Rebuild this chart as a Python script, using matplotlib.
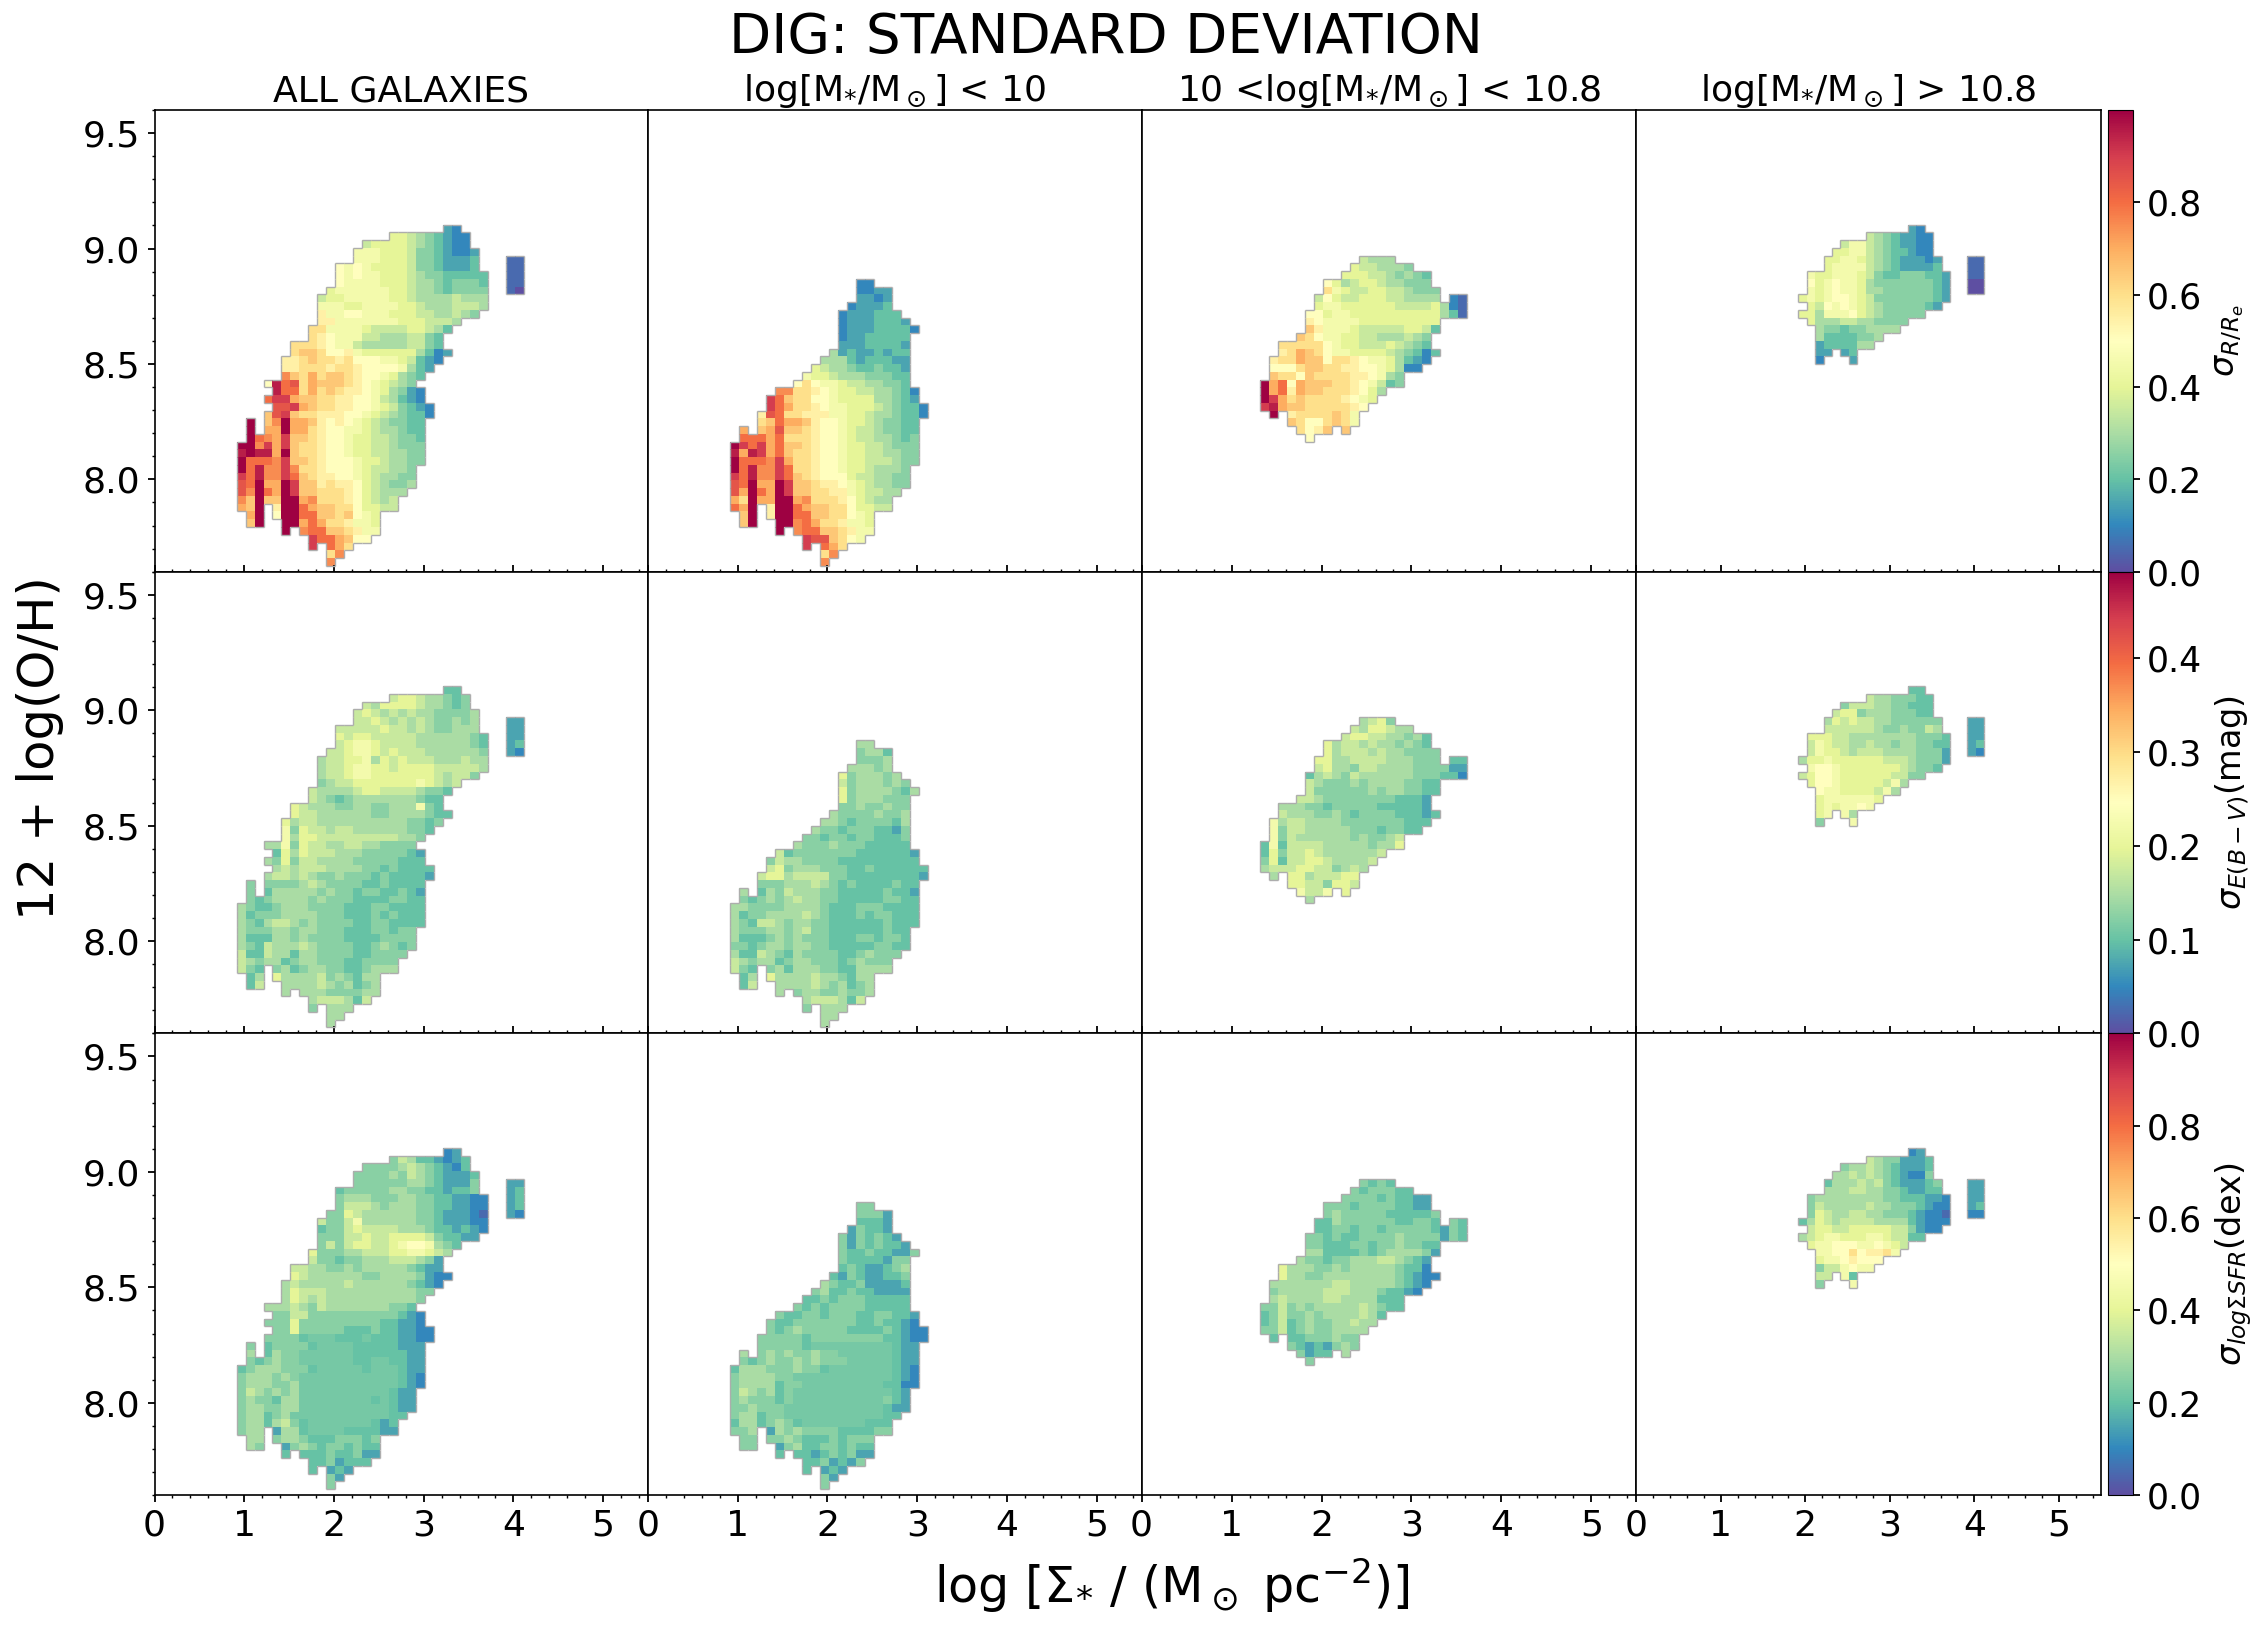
import matplotlib
matplotlib.use('Agg')
import matplotlib.pyplot as plt
import numpy as np
from matplotlib.collections import LineCollection
from matplotlib.ticker import MultipleLocator

# Every map lives on the same 55 x 60 grid of bins. A cell is stored as a letter,
# a=0 ... u=1 of the colour range, capital = half a step above, '.' is an empty bin.
LEVELS = 'abcdefghijklmnopqrstu'

W, H = 2263, 1630
X0, DX = 0.915, 0.1
Y0, DY = 9.104, 0.0336

col_titles = ['ALL GALAXIES', r'log[M$_{*}$/M$_\odot$] < 10',
              r'10 <log[M$_{*}$/M$_\odot$] < 10.8', r'log[M$_{*}$/M$_\odot$] > 10.8']
cbar_labels = [r'$\sigma_{R/R_e}$', r'$\sigma_{E(B-V)}$(mag)', r'$\sigma_{log\Sigma SFR}$(dex)']
vmax_rows = [1.0, 0.492, 1.0]
cbar_ticks = [[0, 0.2, 0.4, 0.6, 0.8], [0, 0.1, 0.2, 0.3, 0.4], [0, 0.2, 0.4, 0.6, 0.8]]

# grid offset of each column's first stored row / first stored bin
first_row = [0, 7, 4, 0]
first_col = [0, 0, 4, 10]

start_all = [23, 17, 14, 13, 13, 11, 11, 11, 10, 9, 9, 9, 9, 8, 8, 6, 6, 5, 5, 5, 3, 4, 3, 4, 3,
             1, 1, 1, 0, 0, 0, 0, 0, 0, 0, 0, 0, 1, 1, 5, 8, 8, 10, 10]
start_low = [14, 14, 14, 13, 12, 12, 12, 12, 12, 11, 10, 9, 8, 7, 5, 4, 4, 3, 3, 1, 1,
             0, 0, 0, 0, 0, 0, 0, 0, 0, 1, 1, 5, 8, 8, 10, 10]
start_mid = [11, 10, 9, 7, 7, 6, 6, 5, 5, 5, 4, 2, 2, 1, 1, 1, 0, 0, 0, 0, 1, 3, 4, 5]
start_high = [13, 8, 5, 4, 3, 3, 1, 1, 1, 0, 1, 0, 1, 2, 2, 2, 2, 2]

re_all = ['dc', 'iihgfedcc', 'hiiiihgfedcc', 'jjjiiihffedccd', 'jjjiiihffeddde...bb',
          'kjkjiiiihffeddde...bb', 'kjkjjiiihgffeeeee..bb', 'kjjjjiiihggfefffe..bb',
          'ijjjjjjiihggfeffff..ba', 'hiijjjjjiihgggghggg', 'jjjiijjjjiihggghhhg', 'ljjkkjjjiiihhgghgf',
          'lljjjjjjjiiihhhg', 'mmjjjjihhhhiihge', 'mlkjjjhhggghhfe', 'mmmlkjjhggggghhfe',
          'mnnmkkljiiiiiigecd', 'llmnmmlmkkkjjihedc', 'llmmmlmmlkkkkjged', 'pnmomnnmlkkjigfe',
          'ktqrmonnnmlkjihgf', 'tqqmomnmllkjigfdc', 'qssonnmmllkkjhgedc', 'rrsonmmllkkjihfedc',
          'nrsnmmlllkkjihgfeec', 'u.npuoonlklkjihgffee', 'u.oouoomlkkjjihggfee', 'uqposnnmlkkjiihhgffe',
          'uupsosnmmlkkjiihhgfff', 'tuttounmmlkkjiihhggff', 'uqqqpsnnmlkkkjiihggff', 'uqtppspmmlkkkjihhggf',
          'sqtppsqnmllkkjihggff', 'rquoousnnlmllkihgffg', 'rpuqousnnmmmlkihggg', 'pnunnuuopmmmlkihgh',
          'onu.luuqonnmmkiihh', 'ou.kuuqqnnmnkji', 'nu..uuoqommljji', 'u.pqqnnmljj', 'sqqonkk', 's.qom',
          'mp', 'p']
re_low = ['cc', 'ccdd', 'ddcd', 'cddde', 'cdddeee', 'cdddeeed', 'cdddeeeec', 'cddeeeee', 'dddeeeed',
          'gdeddedee', 'gggedeeedd', 'ihggfeefeed', 'jiihgggfffee', 'kmkjjihhggffe', 'ppmmlkjiihhggfec',
          'sqnmmkkjiiiiggfed', 'sqommlkjjiiihgfeec', 'lrqmmllljjiihggfeec', 'mnqoonlkkjiihgffee',
          'o.nornnmlkkjihhgffee', 'qqqoqmmmlkkjihhggfef', 'usqsoqnnmlkkjiihhgfff', 'totsoqnmmlkkjiihhggff',
          'uqqqpsommlkkjiihhhgff', 'uqtppsqmmlkkjiihgggf', 'sqtppsqnmlkkkihhggff', 'rquoousnnmllkjihggff',
          'rouqousnnmmlljihhgg', 'omuoouuopmmmlkihgg', 'qou.luuqonnmmkiihh', 'nu.luuqqnnmmkji',
          'nu..uupqommljji', 'u.pqqnnmljj', 'srrnmkj', 's.qom', 'mp', 'p']
re_mid = ['hggg', 'ihhgggf', 'iiihhgfgfe', 'kighiihggfff', 'mjihhiihhgfff', 'hkihhiiihhgggg.cb',
          'ijjiiiiiihhhhigcb', 'kkijjiiiiiiiiiigeb', 'lkjjjjiiiiiiiii', 'nljjjihhhhhiihe',
          'nmkjjiihhggghgf', 'mmmmmkjiihhhihgfe', 'lmonmkjjiiiihgfece', 'lmmonnkmmlkjjigedc',
          'kkkmnnmmllkkjigcc', 'nmmknmmmmllkjgf', 'uoqkonnnmmlkjhef', 'uoqlonnmmmlkig', 'usomnmmmmlkji',
          'stonnmmmmmlk', 'u.lmmmmnmj', 'nmkkmnmj', 'mkln.n', 'k']
re_high = ['dc', 'hgfeddcc', 'hjjhgfeddcc', 'iijjhgfeedcc', 'iijjihgfedddcd...bb', 'ijjjjhgfedddde...bb',
           'jiijjjihfeefffeed..bb', 'kijkjjigfffffffed..aa', 'jijkjjiggffffffed..aa', 'ijijkkjihfffffffed',
           'ihkjkjihgfffffed', 'iigjjjkihgfffff', 'iggghhggffff', 'gffeffgggg', 'geeeeffg', 'deeeegg',
           'dd.de', 'c...d']

ebv_all = ['ee', 'hiihggfef', 'hgiiiihggfef', 'hihghghggffffg', 'hhihghghgffgfg...dd',
           'hhhhhihhghgffggg...dd', 'ihiihhhhhggggggfe..dd', 'hijjihhhhggggggfe..de',
           'hhijjihihhhggggggf..dc', 'ghhiijgihihhhggghgg', 'ghhijjiihiiiihhhhhg', 'ghhijjiiiiiiihghhf',
           'fghhiiiiiiijihgh', 'hgggghiihhhhgffe', 'hgfefgggggggfee', 'ihgggffggffgggjfe',
           'ihhggggggffggggfee', 'ighhggggggggggffef', 'jfihhghhggggggffe', 'jgiihhhhhhhhhggf',
           'ggjfihhgghhggffff', 'eigihhhgggfffffed', 'gfifhhggggfffffeee', 'ghghhhggggffefeeee',
           'ghhghgffgfffefeeeed', 'f.ffffghgffffeefeeee', 'f.egggggfgffeffeefed', 'fefggggfgfffeeeeffee',
           'gfeefgggffffeeeffeeee', 'gefffggggfffeeefefeee', 'gfeghhgfgffffeeffeeee', 'gfffggfggfffeeeffeff',
           'geeeggfgffffeeeeffff', 'gfehggghgffffeefgfef', 'heehggeggffffeeffff', 'hgfggefggfffeeffff',
           'hfe.fgefggffeefggg', 'eg.igggghfgfegg', 'eh..gggghgfgefg', 'g.gggffffgg', 'ghhhgeh', 'f.ggg',
           'gg', 'g']
ebv_low = ['gg', 'fgge', 'fffg', 'gggfg', 'ifgggfg', 'hfgggfgf', 'ifggggfeg', 'ifgggfff', 'ffgffgff',
           'gffffgffg', 'ggfeffffeg', 'gffefffeedf', 'ffeffeffeeef', 'gfffgfffeeeee', 'hefffffffeeeeeed',
           'fhggffffeeeeeeeee', 'hifgggfffeefeeeeee', 'hiighhhhffeeeeeeeed', 'fffggghgfefeeeefee',
           'g.egfhgggffeeeeefeed', 'fefgfghggffeeeeeffee', 'ggffffggggfeeefffeeee', 'geffgggghgfeeefeffeee',
           'gfehhgfggffeeeeeefeee', 'gfffggfghffeeeeeefee', 'geeefgfgfffeeeffeffe', 'ffefggfggffeeeeeffee',
           'geehgfegffffeefgfff', 'hgfggefggfffefgfff', 'hfe.fgegggffeegggg', 'eg.igggghggfegg',
           'eh..gggghgfgefg', 'g.fggffgffg', 'ghhhgeh', 'f.ggg', 'gg', 'g']
ebv_mid = ['ghif', 'hgiihgg', 'hiihhggfge', 'ighhghggfgfe', 'ighhhghggffff', 'iigghhhhgggfff.ee',
           'higgfhhggggffffdd', 'eghgfhggggggfffeec', 'hgfffgfggggffee', 'hffffffgfggffee',
           'hhgffffffffeeed', 'gggffefffffeeeeed', 'hgggffgfeffffeeede', 'jghhggggfffffffeee',
           'jfhhgggggfffeffee', 'jfhggggggfgffgh', 'ejehhhhgggggfggi', 'eifhhihggggggh', 'fiehhiihggggh',
           'ghhhiihhfghg', 'g.iighhhii', 'iihhfiih', 'jhhj.i', 'g']
ebv_high = ['ee', 'hggfffee', 'fhhhggffeee', 'hiifgggfffee', 'gihihhggffffff...dd', 'hhhhhhgffgffhg...dd',
            'iiihhggggggggfffe..dd', 'hjihhgghggfggffee..de', 'hjiihghhhggggfffd..dc', 'giijiiiiiihhhgfffd',
            'jkkjiiiiiiihgffe', 'hikkjiiiiiihhff', 'ikkjiiiiihjg', 'kjjiiiihjg', 'ijjjjjji', 'ijijjkj',
            'ij.jg', 'f...j']

sfr_all = ['cd', 'fhgeedcde', 'ffffghgfedce', 'ffffgfhgfeddde', 'ffffffggfedddf...dd',
           'efffffggffeedeef...de', 'fgggfffggffeeddcc..de', 'fhhhgfgggffeeddcc..de',
           'ffihggggggffedddcb..dc', 'hffhjggggggffedddcc', 'effhihhhhgggfeededc', 'fffhhihhiiiihfeedd',
           'fhfhiihhijkkjgfe', 'ifffgghhhiijjihg', 'hffeffggghhhgfd', 'hhggffgfgggggfedd',
           'ihggggggffggggfdcc', 'ghggggghggggggfedc', 'gihhhggggggggggff', 'gihghggggggggggf',
           'ggghgfhgggggggffe', 'ffhhffffffffffedc', 'fffifffffffffeeddc', 'ffifffffeeefeeddcc',
           'ffffeEEEeeeEeeeddcc', 'f.effffeEEEEeeeeeddd', 'g.egffEEEEEEeeeeeedd', 'fefgffEEEEEEeeEEeedd',
           'efgggfffeEEEEEeEEEedd', 'fgggfgfEEEEEEEEEEEedc', 'fgggffgEEEEEEEEEEEedc', 'fhgfgfgEEEEEEEEEEedd',
           'fgffeggEEEEEEEEeEedd', 'fggffggEEEEEEEEEEedd', 'fggefgEEEEEEEEEEEee', 'fggeghfeEEEEEEEede',
           'fgg.dggeEEEEeeeedd', 'gg.fggfeeefffef', 'gf..dfgfeffefee', 'e.eeefeefdd', 'eefdeee', 'e.ded',
           'fd', 'f']
sfr_low = ['ff', 'fffd', 'eeed', 'dfeed', 'fdfefed', 'fdfefeed', 'feefeeddf', 'feeeedff', 'efeddefg',
           'edfeddeef', 'gfeefdddde', 'fgeefeedddd', 'eefefffeeeee', 'fefeffffeeeee', 'feeffefffeeffeed',
           'feefffffffeefeedc', 'fefgfffffeeeefedcc', 'fffffeffffffffeedcc', 'fffffeEEEEEEEEEedd',
           'g.fgfgffgffEEEEEEedd', 'fefgffgfgfffEEEEEedd', 'egggfffgffeEEEEEEEedc', 'fggggffEEEEEEEEEEEedc',
           'fggggeffEEEEEEEEEeecc', 'fhgfgefEEEEEEEEEEEed', 'fgfffefEEEEEEEEEEfed', 'ffgfffEEEEEEEEEEEedd',
           'fggeffEEEEEEEEEEEee', 'eggefgfeEEEEEEEeee', 'ffg.dgfgffffeeeeff', 'ff.ffgfeeefefff',
           'ff..dfgeeffefee', 'e.eedefefdd', 'eefdedf', 'e.ded', 'fd', 'f']
sfr_mid = ['fefe', 'fefffee', 'ffffefeedd', 'fffeffffeedd', 'fgfffffeeeeef', 'eegffffffeeffe.fe',
           'eeffeffefffffedfe', 'ffefeeffffgffffdfe', 'ffeeeffeffgffee', 'ggeeeefefggggfd',
           'gffeffggghhgfed', 'igggffgfgggggfeec', 'iggffggggggggfedcc', 'ggggggghhgggggfedc',
           'fggggghhhgggfeedc', 'ghgggghhggggeee', 'ffhfgfggggghgfee', 'efhffgfgggghge', 'efhefgffgghgg',
           'ffhefgffgggg', 'e.eefffgff', 'fededfgf', 'fdee.g', 'f']
sfr_high = ['cd', 'hgffddde', 'fgghgfeddde', 'gghghgfedccf', 'eggghghfedddef...dd', 'ggghhggffeddee...dd',
            'fggggggggffeeeddc..dd', 'fhggggghggfffedcc..de', 'fihgghhggfffedccb..cc', 'egihghhhhggggedccc',
            'hiihhiiiiihhfdcc', 'ghijjiiijjihhee', 'ijjkkkjjkjih', 'jjkkmkllmj', 'ijjklkkk', 'fhhjkjj',
            'hh.je', 'f...j']

starts = [start_all, start_low, start_mid, start_high]
maps = [[re_all, re_low, re_mid, re_high],
        [ebv_all, ebv_low, ebv_mid, ebv_high],
        [sfr_all, sfr_low, sfr_mid, sfr_high]]


def build_grid(rows, start, row0, col0, vmax):
    grid = np.full((60, 55), np.nan)
    for i, text in enumerate(rows):
        for j, ch in enumerate(text):
            if ch != '.':
                level = LEVELS.index(ch.lower()) + (0.5 if ch.isupper() else 0)
                grid[row0 + i, col0 + start[i] + j] = level / 20 * vmax
    return grid


def outline(grid, xe, ye):
    # grey line along the border between filled and empty bins
    full = np.pad(~np.isnan(grid), 1, constant_values=False)
    segs = []
    for r, c in np.argwhere(full[1:, 1:-1] != full[:-1, 1:-1]):
        segs.append([(xe[c], ye[r]), (xe[c + 1], ye[r])])
    for r, c in np.argwhere(full[1:-1, 1:] != full[1:-1, :-1]):
        segs.append([(xe[c], ye[r]), (xe[c], ye[r + 1])])
    return segs


xe = X0 + DX * np.arange(56)
ye = Y0 - DY * np.arange(61)

fig = plt.figure(figsize=(W / 100, H / 100), dpi=100)
lefts = [154.5, 648.0, 1141.6, 1636.4]
rights = [648.0, 1141.6, 1636.4, 2101.0]
tops = [110.0, 571.7, 1033.4]
row_h = 461.7

for r in range(3):
    mesh = None
    for c in range(4):
        ax = fig.add_axes([lefts[c] / W, 1 - (tops[r] + row_h) / H, (rights[c] - lefts[c]) / W, row_h / H])
        grid = build_grid(maps[r][c], starts[c], first_row[c], first_col[c], vmax_rows[r])
        mesh = ax.pcolormesh(xe, ye, grid, cmap='Spectral_r', vmin=0, vmax=vmax_rows[r],
                             shading='flat', rasterized=True)
        ax.add_collection(LineCollection(outline(grid, xe, ye), colors='#adadad', linewidths=1.0, zorder=3))
        ax.set_xlim(0, 5.5)
        ax.set_ylim(7.6, 9.6)
        ax.xaxis.set_major_locator(MultipleLocator(1))
        ax.xaxis.set_minor_locator(MultipleLocator(0.2))
        ax.yaxis.set_major_locator(MultipleLocator(0.5))
        ax.yaxis.set_minor_locator(MultipleLocator(0.1))
        xdir = 'out' if r == 2 else 'in'
        ax.tick_params(axis='x', which='major', direction=xdir, length=5, width=1.3,
                       labelsize=26, labelbottom=(r == 2), pad=5)
        ax.tick_params(axis='x', which='minor', direction=xdir, length=2.5, width=1.0)
        ax.tick_params(axis='y', which='major', direction='out', length=5, width=1.3,
                       labelsize=26, left=(c == 0), labelleft=(c == 0), pad=5)
        ax.tick_params(axis='y', which='minor', direction='out', length=2.5, width=1.0, left=(c == 0))
        ax.set_yticks([8.0, 8.5, 9.0, 9.5])
        ax.set_yticklabels(['8.0', '8.5', '9.0', '9.5'])
        for s in ax.spines.values():
            s.set_linewidth(1.2)
        if r == 0:
            ax.set_title(col_titles[c], fontsize=26, pad=6)
    cax = fig.add_axes([2108 / W, 1 - (tops[r] + row_h) / H, 25 / W, row_h / H])
    cb = fig.colorbar(mesh, cax=cax, ticks=cbar_ticks[r])
    cb.ax.tick_params(labelsize=25, length=5, width=1.3, pad=5)
    cb.ax.set_yticklabels(['%.1f' % t for t in cbar_ticks[r]])
    cb.set_label(cbar_labels[r], fontsize=24, labelpad=8)

fig.text(766 / 1568, 1 - 26 / 1129, 'DIG: STANDARD DEVIATION', fontsize=39.5, ha='center', va='center')
fig.text(28 / 1568, 1 - 518 / 1129, '12 + log(O/H)', fontsize=35.7, rotation=90, ha='center', va='center')
fig.text(812 / 1568, 1 - 1098 / 1129, r'log [$\Sigma_{*}$ / (M$_\odot$ pc$^{-2}$)]', fontsize=35.4,
         ha='center', va='center')

fig.savefig('out.png', dpi=100)
